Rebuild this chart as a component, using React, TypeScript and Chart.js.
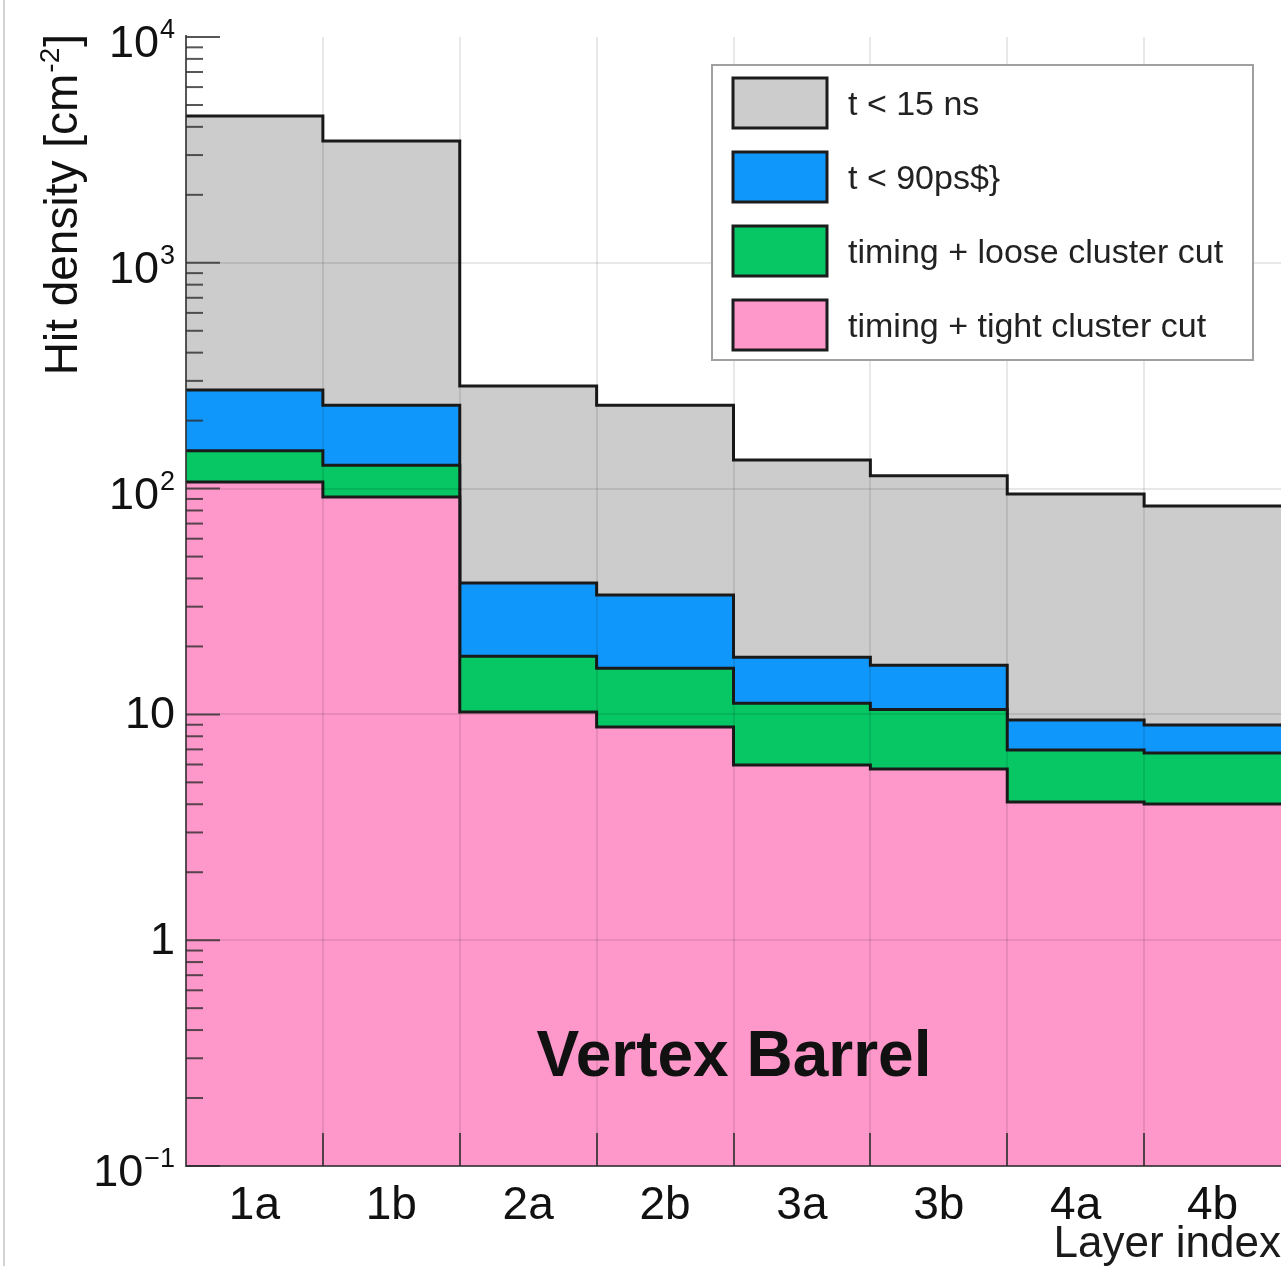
import React, { useEffect, useRef } from 'react';
import { Chart, registerables } from 'chart.js';

Chart.register(...registerables);

// ---- data ----
const categories = ['1a', '1b', '2a', '2b', '3a', '3b', '4a', '4b'];
const seriesLabels = ['t < 15 ns', 't < 90ps$}', 'timing + loose cluster cut', 'timing + tight cluster cut'];
const t15ns = [4470, 3460, 285, 234, 134, 114, 94.6, 83.7];
const t90ps = [273, 234, 38.2, 33.8, 17.9, 16.5, 9.45, 8.97];
const looseCut = [147, 127, 18.1, 16.0, 11.2, 10.5, 6.96, 6.75];
const tightCut = [107, 91.8, 10.25, 8.8, 5.97, 5.73, 4.09, 4.01];
const seriesColors = ['#cccccc', '#1097fb', '#06c764', '#fe98ca'];
const yDecades = [0.1, 1, 10, 100, 1000, 10000];
const yTickBase = ['10', '1', '10', '10', '10', '10'];
const yTickExp = ['\u22121', '', '', '2', '3', '4'];
const xTitle = 'Layer index';
const yTitleParts = ['Hit density [cm', '-2', ']'];
const panelLabel = 'Vertex Barrel';

const FONT = '"Liberation Sans", Arial, Helvetica, sans-serif';

const toSteps = (vals: number[]) => [
  ...vals.map((v, i) => ({ x: i, y: v })),
  { x: vals.length, y: vals[vals.length - 1] },
];

const decorPlugin = {
  id: 'decor',
  beforeDraw(chart: any) {
    const ctx = chart.ctx;
    ctx.save();
    ctx.fillStyle = '#ffffff';
    ctx.fillRect(0, 0, chart.width, chart.height);
    ctx.restore();
  },
  afterDatasetsDraw(chart: any) {
    const ctx = chart.ctx as CanvasRenderingContext2D;
    const { left, right, top, bottom } = chart.chartArea;
    const xs = chart.scales.x;
    const ys = chart.scales.y;
    ctx.save();

    // grid lines (drawn over the fills, as in the reference)
    ctx.strokeStyle = 'rgba(0,0,0,0.09)';
    ctx.lineWidth = 2;
    for (let i = 1; i < categories.length; i++) {
      const px = Math.round(xs.getPixelForValue(i));
      ctx.beginPath();
      ctx.moveTo(px, top);
      ctx.lineTo(px, bottom);
      ctx.stroke();
    }
    for (let i = 1; i < yDecades.length - 1; i++) {
      const py = Math.round(ys.getPixelForValue(yDecades[i]));
      ctx.beginPath();
      ctx.moveTo(left, py);
      ctx.lineTo(right, py);
      ctx.stroke();
    }

    // axes
    ctx.strokeStyle = 'rgba(45,45,45,0.8)';
    ctx.lineWidth = 2;
    ctx.beginPath();
    ctx.moveTo(left, top - 2);
    ctx.lineTo(left, bottom);
    ctx.lineTo(right, bottom);
    ctx.stroke();

    // y ticks inside
    for (let d = 0; d < yDecades.length; d++) {
      const dec = yDecades[d];
      const py = ys.getPixelForValue(dec);
      ctx.beginPath();
      ctx.moveTo(left, py);
      ctx.lineTo(left + 34, py);
      ctx.stroke();
      if (d < yDecades.length - 1) {
        for (let k = 2; k <= 9; k++) {
          const pm = ys.getPixelForValue(dec * k);
          ctx.beginPath();
          ctx.moveTo(left, pm);
          ctx.lineTo(left + 17, pm);
          ctx.stroke();
        }
      }
    }
    // x ticks inside at bin edges
    for (let i = 1; i < categories.length; i++) {
      const px = Math.round(xs.getPixelForValue(i));
      ctx.beginPath();
      ctx.moveTo(px, bottom);
      ctx.lineTo(px, bottom - 33);
      ctx.stroke();
    }

    // y tick labels with superscripts
    ctx.fillStyle = '#111111';
    ctx.textBaseline = 'middle';
    ctx.textAlign = 'right';
    const labRight = 175;
    for (let d = 0; d < yDecades.length; d++) {
      const py = ys.getPixelForValue(yDecades[d]);
      const exp = yTickExp[d];
      if (exp) {
        ctx.font = `27px ${FONT}`;
        const ew = ctx.measureText(exp).width;
        ctx.fillText(exp, labRight, py - 6);
        ctx.font = `45px ${FONT}`;
        ctx.fillText(yTickBase[d], labRight - ew - 1, py + 8);
      } else {
        ctx.font = `45px ${FONT}`;
        ctx.fillText(yTickBase[d], labRight, py + 1);
      }
    }

    // y axis title (rotated, aligned to top)
    {
      ctx.save();
      ctx.translate(77, 0);
      ctx.rotate(-Math.PI / 2);
      ctx.textAlign = 'left';
      ctx.textBaseline = 'alphabetic';
      ctx.fillStyle = '#111111';
      ctx.font = `46px ${FONT}`;
      const w1 = ctx.measureText(yTitleParts[0]).width;
      const w3 = ctx.measureText(yTitleParts[2]).width;
      ctx.font = `28px ${FONT}`;
      const w2 = ctx.measureText(yTitleParts[1]).width;
      const total = w1 + w2 + w3 + 2;
      let u = -(top - 3 + total);
      ctx.font = `46px ${FONT}`;
      ctx.fillText(yTitleParts[0], u, 0);
      u += w1 + 1;
      ctx.font = `28px ${FONT}`;
      ctx.fillText(yTitleParts[1], u, -18);
      u += w2 + 1;
      ctx.font = `46px ${FONT}`;
      ctx.fillText(yTitleParts[2], u, 0);
      ctx.restore();
    }

    // panel label
    ctx.font = `bold 64px ${FONT}`;
    ctx.textAlign = 'center';
    ctx.textBaseline = 'middle';
    ctx.fillStyle = '#111111';
    ctx.fillText(panelLabel, 734, 1058);

    // legend
    ctx.fillStyle = '#ffffff';
    ctx.fillRect(712, 65, 541, 295);
    ctx.strokeStyle = '#a0a0a0';
    ctx.lineWidth = 2;
    ctx.strokeRect(712, 65, 541, 295);
    for (let i = 0; i < seriesLabels.length; i++) {
      const y0 = 78 + i * 74;
      ctx.fillStyle = seriesColors[i];
      ctx.fillRect(733, y0, 94, 50);
      ctx.strokeStyle = '#1c1c1c';
      ctx.lineWidth = 3;
      ctx.strokeRect(733, y0, 94, 50);
      ctx.fillStyle = '#222222';
      ctx.font = `34px ${FONT}`;
      ctx.textAlign = 'left';
      ctx.textBaseline = 'middle';
      ctx.fillText(seriesLabels[i], 848, y0 + 28);
    }

    ctx.restore();
  },
  afterDraw(chart: any) {
    const ctx = chart.ctx;
    ctx.save();
    ctx.strokeStyle = '#c4c4c4';
    ctx.lineWidth = 1.5;
    ctx.beginPath();
    ctx.moveTo(4, 0);
    ctx.lineTo(4, chart.height);
    ctx.stroke();
    ctx.restore();
  },
};

export default function App() {
  const ref = useRef<HTMLCanvasElement>(null);
  useEffect(() => {
    document.body.style.margin = '0';
    document.body.style.overflow = 'hidden';
    const canvas = ref.current!;
    const series = [t15ns, t90ps, looseCut, tightCut];
    const chart = new Chart(canvas, {
      type: 'line',
      data: {
        datasets: series.map((vals, i) => ({
          label: seriesLabels[i],
          data: toSteps(vals),
          stepped: 'before',
          fill: 'start',
          backgroundColor: seriesColors[i],
          borderColor: '#1a1a1a',
          borderWidth: 3,
          pointRadius: 0,
          pointHoverRadius: 0,
          tension: 0,
          order: series.length - i,
        })) as any,
      },
      options: {
        animation: false,
        responsive: false,
        devicePixelRatio: 1,
        layout: { padding: { top: 37, left: 0, right: 0, bottom: 0 } },
        plugins: { legend: { display: false }, tooltip: { enabled: false } },
        scales: {
          x: {
            type: 'linear',
            min: 0,
            max: categories.length,
            grid: { display: false },
            border: { display: false },
            afterBuildTicks: (axis: any) => {
              axis.ticks = categories.map((_, i) => ({ value: i + 0.5 }));
            },
            afterFit: (axis: any) => {
              axis.height = 100;
            },
            ticks: {
              autoSkip: false,
              maxRotation: 0,
              padding: 5,
              color: '#111111',
              font: { family: FONT, size: 46 },
              callback: (value: any) => categories[Math.floor(Number(value))] ?? '',
            },
            title: {
              display: true,
              text: xTitle,
              align: 'end',
              color: '#1a1a1a',
              font: { family: FONT, size: 44, lineHeight: 0.9 },
              padding: { top: 0, bottom: 1 },
            },
          },
          y: {
            type: 'logarithmic',
            min: yDecades[0],
            max: yDecades[yDecades.length - 1],
            grid: { display: false },
            border: { display: false },
            ticks: { display: false },
            afterFit: (axis: any) => {
              axis.width = 186;
            },
          },
        },
      } as any,
      plugins: [decorPlugin],
    });
    return () => chart.destroy();
  }, []);
  return <canvas ref={ref} width={1281} height={1266} style={{ display: 'block' }} />;
}
